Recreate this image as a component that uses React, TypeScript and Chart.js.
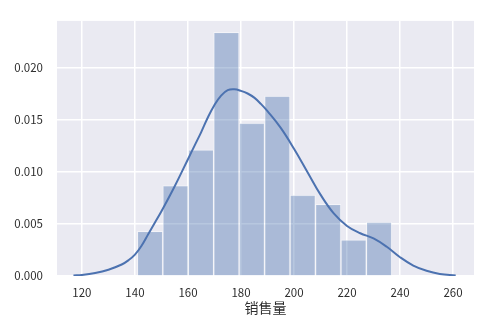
import React, { useEffect, useRef } from "react";
import { Chart, registerables } from "chart.js";

Chart.register(...registerables);

// Histogram (density) – bin centres and heights
const binCenters = [145.7, 155.3, 164.9, 174.5, 184.1, 193.7, 203.3, 212.9, 222.5, 232.1];
const binDensity = [0.00429, 0.00866, 0.01209, 0.02336, 0.01466, 0.01726, 0.00775, 0.00687, 0.00346, 0.00516];

// KDE curve points
const kdeX = [116.8, 120, 125, 130, 135, 137.5, 140, 142.5, 145, 147.5, 150, 155, 160, 162.5, 165, 167.5, 170, 172.5, 175, 177.5, 180, 182.5, 185, 187.5, 190, 195, 200, 205, 210, 215, 220, 225, 230, 235, 240, 245, 250, 255, 261];
const kdeY = [0.00006, 0.0001, 0.00028, 0.0006, 0.0011, 0.0015, 0.00205, 0.0029, 0.004, 0.0051, 0.0062, 0.0086, 0.0112, 0.0125, 0.0138, 0.0152, 0.0164, 0.0173, 0.01782, 0.0179, 0.01775, 0.0175, 0.0171, 0.0165, 0.0158, 0.0142, 0.0122, 0.01, 0.0078, 0.006, 0.0048, 0.0041, 0.0036, 0.0028, 0.0018, 0.001, 0.0005, 0.0002, 0.00005];

const xTicks = [120, 140, 160, 180, 200, 220, 240, 260];
const yTicks = [0, 0.005, 0.01, 0.015, 0.02];
const xLabel = "销售量";

const FONT = "'Noto Sans CJK SC', 'Liberation Sans', sans-serif";
const TEXT = "#2e2e2e";

const bgPlugin = {
  id: "plotBg",
  beforeDraw(chart: any) {
    const { ctx, chartArea } = chart;
    if (!chartArea) return;
    ctx.save();
    ctx.fillStyle = "#EAEAF2";
    ctx.fillRect(chartArea.left, chartArea.top, chartArea.right - chartArea.left, chartArea.bottom - chartArea.top);
    ctx.restore();
  },
};

export default function App() {
  const ref = useRef<HTMLCanvasElement | null>(null);
  useEffect(() => {
    document.body.style.margin = "0";
    const canvas = ref.current;
    if (!canvas) return;
    const chart = new Chart(canvas, {
      type: "bar",
      data: {
        datasets: [
          {
            type: "line",
            data: kdeX.map((x, i) => ({ x, y: kdeY[i] })),
            borderColor: "#4C72B0",
            borderWidth: 2,
            pointRadius: 0,
            fill: false,
            tension: 0.4,
            order: 0,
          } as any,
          {
            type: "bar",
            data: binCenters.map((x, i) => ({ x, y: binDensity[i] })),
            backgroundColor: "rgba(76,114,176,0.4)",
            borderColor: "rgba(255,255,255,0.45)",
            borderWidth: 1,
            barPercentage: 1,
            categoryPercentage: 1,
            order: 1,
          } as any,
        ],
      },
      options: {
        responsive: false,
        animation: false,
        devicePixelRatio: 1,
        layout: { padding: { top: 5, right: 20, left: 0, bottom: 0 } },
        plugins: { legend: { display: false }, tooltip: { enabled: false } },
        scales: {
          x: {
            type: "linear",
            min: 110.6,
            max: 267.9,
            offset: false,
            border: { display: false },
            grid: { color: "#FFFFFF", lineWidth: 1.5, drawTicks: false, offset: false },
            afterBuildTicks: (scale: any) => {
              scale.ticks = xTicks.map((v) => ({ value: v }));
            },
            afterFit: (scale: any) => {
              scale.height = 48;
            },
            ticks: {
              padding: 10,
              color: TEXT,
              font: { family: FONT, size: 11.5 },
              callback: (v: any) => String(v),
              maxRotation: 0,
            },
            title: {
              display: true,
              text: xLabel,
              color: TEXT,
              font: { family: FONT, size: 14 },
              padding: { top: 0, bottom: 8 },
            },
          },
          y: {
            type: "linear",
            min: 0,
            max: 0.02446,
            border: { display: false },
            grid: { color: "#FFFFFF", lineWidth: 1.5, drawTicks: false },
            afterBuildTicks: (scale: any) => {
              scale.ticks = yTicks.map((v) => ({ value: v }));
            },
            afterFit: (scale: any) => {
              scale.width = 57;
            },
            ticks: {
              padding: 14,
              color: TEXT,
              font: { family: FONT, size: 11.5 },
              callback: (v: any) => Number(v).toFixed(3),
            },
          },
        },
      } as any,
      plugins: [bgPlugin],
    });
    return () => chart.destroy();
  }, []);
  return <canvas ref={ref} width={494} height={324} style={{ display: "block" }} />;
}
